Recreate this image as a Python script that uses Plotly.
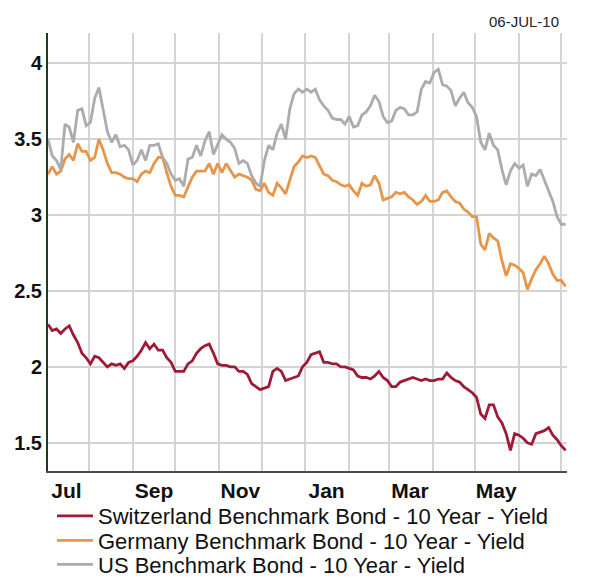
import pandas as pd
import plotly.graph_objects as go

# ---- data (sampled every 3 calendar days from 03-Jul-2009) ----
start_date = "2009-07-03"
step = "3D"

us_yield = [3.50, 3.39, 3.36, 3.30, 3.60, 3.58, 3.48, 3.69, 3.70, 3.59,
            3.61, 3.77, 3.84, 3.70, 3.55, 3.48, 3.53, 3.45, 3.46, 3.43,
            3.33, 3.36, 3.43, 3.36, 3.46, 3.46, 3.47, 3.38, 3.34, 3.27,
            3.23, 3.24, 3.19, 3.37, 3.38, 3.46, 3.39, 3.49, 3.55, 3.40,
            3.47, 3.53, 3.50, 3.48, 3.44, 3.34, 3.36, 3.34, 3.26, 3.21,
            3.19, 3.36, 3.46, 3.43, 3.54, 3.60, 3.50, 3.70, 3.80, 3.83,
            3.81, 3.83, 3.81, 3.83, 3.76, 3.72, 3.69, 3.64, 3.63, 3.63,
            3.60, 3.65, 3.58, 3.59, 3.66, 3.68, 3.72, 3.79, 3.75, 3.65,
            3.61, 3.62, 3.69, 3.71, 3.70, 3.66, 3.66, 3.68, 3.83, 3.88,
            3.87, 3.94, 3.96, 3.86, 3.85, 3.82, 3.72, 3.77, 3.81, 3.74,
            3.71, 3.65, 3.48, 3.43, 3.54, 3.46, 3.43, 3.30, 3.20, 3.29,
            3.34, 3.31, 3.33, 3.19, 3.27, 3.26, 3.30, 3.23, 3.17, 3.09,
            2.99, 2.94, 2.94]

germany_yield = [3.27, 3.32, 3.27, 3.29, 3.37, 3.40, 3.36, 3.47, 3.42, 3.42,
                 3.36, 3.38, 3.50, 3.43, 3.34, 3.28, 3.28, 3.27, 3.25, 3.24,
                 3.24, 3.22, 3.27, 3.29, 3.28, 3.34, 3.38, 3.38, 3.28, 3.19,
                 3.13, 3.13, 3.12, 3.19, 3.25, 3.29, 3.29, 3.29, 3.34, 3.27,
                 3.34, 3.28, 3.34, 3.29, 3.25, 3.27, 3.26, 3.25, 3.23, 3.17,
                 3.16, 3.21, 3.15, 3.13, 3.21, 3.18, 3.14, 3.23, 3.32, 3.35,
                 3.39, 3.38, 3.39, 3.38, 3.33, 3.27, 3.26, 3.23, 3.22, 3.20,
                 3.19, 3.20, 3.16, 3.13, 3.21, 3.19, 3.20, 3.26, 3.21, 3.10,
                 3.11, 3.12, 3.15, 3.14, 3.15, 3.12, 3.10, 3.07, 3.09, 3.13,
                 3.09, 3.09, 3.10, 3.15, 3.16, 3.12, 3.09, 3.08, 3.04, 3.02,
                 2.99, 2.99, 2.81, 2.77, 2.88, 2.85, 2.83, 2.70, 2.60, 2.68,
                 2.67, 2.65, 2.62, 2.51, 2.58, 2.64, 2.68, 2.73, 2.68, 2.61,
                 2.57, 2.57, 2.53]

swiss_yield = [2.28, 2.24, 2.25, 2.22, 2.25, 2.27, 2.21, 2.16, 2.09, 2.06,
               2.02, 2.07, 2.06, 2.03, 2.00, 2.02, 2.01, 2.02, 1.99, 2.03,
               2.04, 2.07, 2.11, 2.16, 2.12, 2.15, 2.11, 2.11, 2.06, 2.03,
               1.97, 1.97, 1.97, 2.02, 2.04, 2.09, 2.12, 2.14, 2.15, 2.09,
               2.02, 2.01, 2.01, 2.00, 2.00, 1.97, 1.97, 1.95, 1.89, 1.87,
               1.85, 1.86, 1.87, 1.97, 1.99, 1.97, 1.91, 1.92, 1.93, 1.94,
               2.00, 2.03, 2.08, 2.09, 2.10, 2.03, 2.03, 2.02, 2.02, 2.00,
               2.00, 1.99, 1.98, 1.94, 1.93, 1.93, 1.92, 1.94, 1.97, 1.93,
               1.91, 1.87, 1.87, 1.90, 1.91, 1.92, 1.93, 1.92, 1.91, 1.92,
               1.91, 1.91, 1.92, 1.92, 1.96, 1.93, 1.91, 1.90, 1.87, 1.85,
               1.83, 1.80, 1.69, 1.66, 1.75, 1.75, 1.67, 1.63, 1.56, 1.45,
               1.56, 1.55, 1.53, 1.50, 1.49, 1.56, 1.57, 1.58, 1.60, 1.55,
               1.52, 1.48, 1.45]

series_names = ["Switzerland Benchmark Bond - 10 Year - Yield",
                "Germany Benchmark Bond - 10 Year - Yield",
                "US Benchmark Bond - 10 Year - Yield"]
series_colors = ["#9e1b36", "#e8954a", "#acacac"]

x_tick_dates = ["2009-07-16", "2009-09-16", "2009-11-16",
                "2010-01-16", "2010-03-16", "2010-05-16"]
x_tick_labels = ["Jul", "Sep", "Nov", "Jan", "Mar", "May"]
y_tick_vals = [1.5, 2, 2.5, 3, 3.5, 4]
y_tick_labels = ["1.5", "2", "2.5", "3", "3.5", "4"]
date_stamp = "06-JUL-10"

dates = pd.date_range(start_date, periods=len(us_yield), freq=step)

FONT = "Liberation Sans, Arial, sans-serif"
W, H = 604, 577

fig = go.Figure()
legend_ids = ["legend", "legend2", "legend3"]
for name, vals, col, lg in zip(series_names, [swiss_yield, germany_yield, us_yield],
                               series_colors, legend_ids):
    fig.add_trace(go.Scatter(x=dates, y=vals, mode="lines", name=name, legend=lg,
                             line=dict(color=col, width=2.8)))

legend_centers = [516, 540.5, 564.5]   # pixel rows of the three legend entries
legend_common = dict(xref="container", yref="container", x=52 / W, xanchor="left",
                     yanchor="middle", font=dict(size=22, family=FONT, color="#111"),
                     itemwidth=36, bgcolor="rgba(0,0,0,0)", borderwidth=0)

yr = [1.314, 4.2]
layout_legends = {lg: dict(legend_common, y=1 - cy / H) for lg, cy in zip(legend_ids, legend_centers)}

fig.update_layout(
    width=W, height=H,
    margin=dict(l=48, r=37, t=33, b=106, autoexpand=False),
    paper_bgcolor="white", plot_bgcolor="white",
    font=dict(family=FONT, color="#111"),
    showlegend=True,
    xaxis=dict(type="date", range=["2009-07-03", "2010-07-05"], automargin=False,
               tickmode="array", tickvals=x_tick_dates, ticktext=x_tick_labels,
               showgrid=False, ticks="", ticklen=0,
               tickfont=dict(size=21, weight="bold", color="#111"),
               showline=True, linecolor="#4a4f4a", linewidth=2,
               minor=dict(tick0="2009-08-01", dtick="M1", showgrid=True,
                          gridcolor="#d4d4d4", gridwidth=1.5, ticks=""),
               zeroline=False),
    yaxis=dict(range=yr, tickmode="array", tickvals=y_tick_vals, ticktext=y_tick_labels,
               automargin=False, showgrid=True, gridcolor="#d4d4d4", gridwidth=1.5,
               ticks="", ticklen=0,
               tickfont=dict(size=20, weight="bold", color="#111"),
               showline=True, linecolor="#22391a", linewidth=2, zeroline=False),
    yaxis2=dict(range=yr, overlaying="y", side="right", tickmode="array", automargin=False,
                tickvals=y_tick_vals, ticktext=y_tick_labels, showgrid=False,
                ticks="", ticklen=0,
                tickfont=dict(size=20, weight="bold", color="#111"),
                showline=True, linecolor="#111", linewidth=2, zeroline=False),
    **layout_legends,
)
fig.add_annotation(text=date_stamp, xref="paper", yref="paper", x=0.989, y=1.027,
                   xanchor="right", yanchor="middle", showarrow=False,
                   font=dict(size=15, family=FONT, color="#222"))

fig.write_html("out.html", config={"displayModeBar": False},
               post_script="document.body.style.margin='0';document.body.style.padding='0';")
